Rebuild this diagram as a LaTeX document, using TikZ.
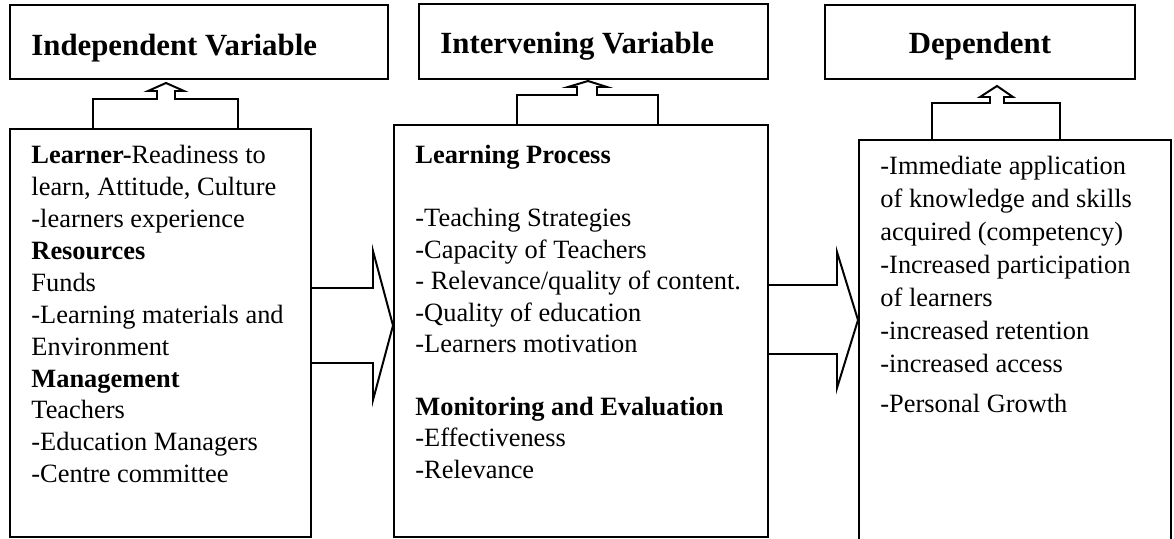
\documentclass[tikz,border=0pt]{standalone}
\usepackage{fontspec}
\setmainfont{Liberation Serif}
\usetikzlibrary{fit, calc}

\begin{document}
\begin{tikzpicture}[x=0.4545pt, y=-0.4545pt,
    box/.style={draw, line width=0.9pt, inner sep=0pt, fit={#1}},
    title/.style={font=\fontsize{14}{16}\selectfont\bfseries, inner sep=0pt, anchor=base west},
    body/.style={font=\fontsize{12}{14.5}\selectfont, align=left, inner sep=0pt, anchor=north west},
    blockarrow/.style={line width=0.9pt, line join=miter}]
  \useasboundingbox (0,0) rectangle (1174,539);

  % Top row: variables
  \node[box={(10,5) (388,79)}] (indep) {};
  \node[box={(419,4) (768,79)}] (interv) {};
  \node[box={(825,5) (1135,79)}] (dep) {};
  \node[title] (indeplbl) at (31,55) {Independent Variable};
  \node[title] (intervlbl) at (440,53) {Intervening Variable};
  \node[title, anchor=base] (deplbl) at (980,53) {Dependent};

  % Bottom row: contents
  \node[box={(10,129) (311,537)}] (learner) {};
  \node[box={(394,125) (768,537)}] (process) {};
  \node[box={(859,140) (1171,548)}] (outcome) {};

  \node[body] (learnertxt) at (31,145) {
    \textbf{Learner-}Readiness to\\
    learn, Attitude, Culture\\
    -learners experience\\
    \textbf{Resources}\\
    Funds\\
    -Learning materials and\\
    Environment\\
    \textbf{Management}\\
    Teachers\\
    -Education Managers\\
    -Centre committee
  };
  \node[body, font=\fontsize{12}{14.3}\selectfont] (processtxt) at (415,145) {
    \textbf{Learning Process}\\[14.3pt]
    -Teaching Strategies\\
    -Capacity of Teachers\\
    - Relevance/quality of content.\\
    -Quality of education\\
    -Learners motivation\\[14.3pt]
    \textbf{Monitoring and Evaluation}\\
    -Effectiveness\\
    -Relevance
  };
  \node[body, font=\fontsize{12}{15}\selectfont] (outcometxt) at (880,156) {
    -Immediate application\\
    of knowledge and skills\\
    acquired (competency)\\
    -Increased participation\\
    of learners\\
    -increased retention\\
    -increased access\\[3pt]
    -Personal Growth
  };

  % Up arrows
  \draw[blockarrow] (93,0 |- learner.north) -- (93,99) -- (157,99) -- (157,91) -- (148,91)
    -- ($(166,0 |- indep.south)+(0,3)$) -- (184,91) -- (175,91) -- (175,99) -- (238,99) -- (238,0 |- learner.north);
  \draw[blockarrow] (517,0 |- process.north) -- (517,95) -- (577,95) -- (577,87) -- (568,87)
    -- ($(588,0 |- interv.south)+(0,1)$) -- (607,87) -- (597,87) -- (597,95) -- (658,95) -- (658,0 |- process.north);
  \draw[blockarrow] (932,0 |- outcome.north) -- (932,103) -- (990,103) -- (990,97) -- (980,97)
    -- ($(997,0 |- dep.south)+(0,6)$) -- (1013,97) -- (1004,97) -- (1004,103) -- (1060,103) -- (1060,0 |- outcome.north);

  % Right arrows
  \draw[blockarrow] (learner.east |- 0,288) -- (373,288) -- (373,251) -- (process.west |- 0,325.5)
    -- (373,400) -- (373,363) -- (learner.east |- 0,363);
  \draw[blockarrow] (process.east |- 0,285) -- (837,285) -- (837,252) -- (outcome.west |- 0,320)
    -- (837,388) -- (837,354) -- (process.east |- 0,354);
\end{tikzpicture}
\end{document}
